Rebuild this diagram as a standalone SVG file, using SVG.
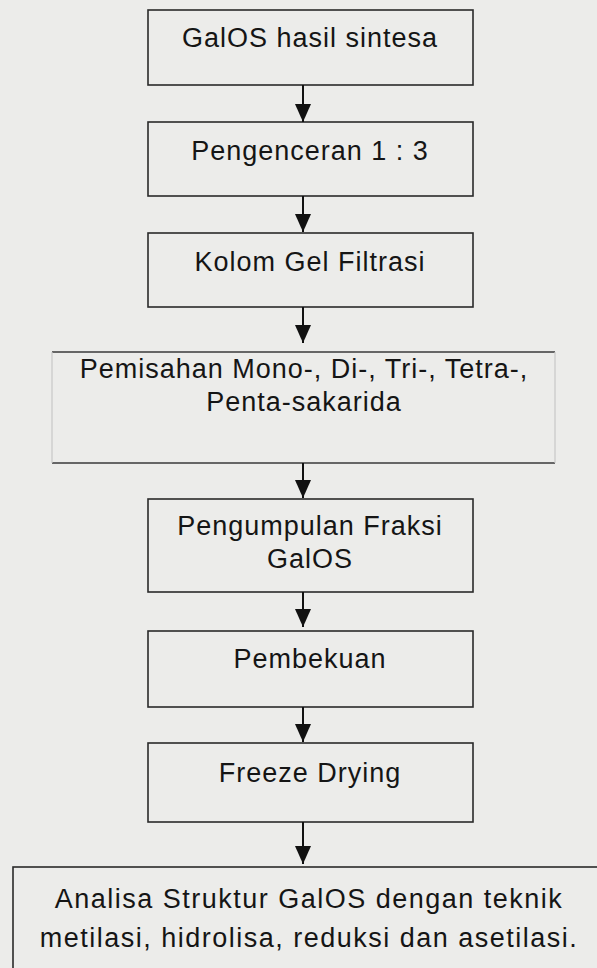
<svg xmlns="http://www.w3.org/2000/svg" width="597" height="968" viewBox="0 0 597 968">
  <style>
    .box { fill: none; stroke: #2a2a2a; stroke-width: 1.6; }
    .faint { stroke: #c8c8c6; stroke-width: 1.2; }
    .hl { stroke: #3a3a3a; stroke-width: 1.6; }
    .lbl { font-family: "Liberation Sans", Arial, sans-serif; font-size: 27px; fill: #151515; text-anchor: middle; letter-spacing: 1px; }
    .wide { letter-spacing: 1.5px; }
    .conn { stroke: #111; stroke-width: 2; fill: none; marker-end: url(#arr); }
  </style>
  <defs>
    <marker id="arr" viewBox="0 0 18 16" markerWidth="18" markerHeight="16" refX="18" refY="8" orient="auto" markerUnits="userSpaceOnUse">
      <path d="M0,0 L18,8 L0,16 z" fill="#111"/>
    </marker>
  </defs>
  <rect x="0" y="0" width="597" height="968" fill="#ececea"/>

  <g id="n1">
    <rect class="box" x="148" y="10" width="325" height="75"/>
    <text class="lbl" x="310" y="47">GalOS hasil sintesa</text>
  </g>
  <g id="n2">
    <rect class="box" x="148" y="122" width="325" height="74"/>
    <text class="lbl" x="310" y="160">Pengenceran 1 : 3</text>
  </g>
  <g id="n3">
    <rect class="box" x="148" y="233" width="325" height="74"/>
    <text class="lbl" x="310" y="271">Kolom Gel Filtrasi</text>
  </g>
  <g id="n4">
    <line class="hl" x1="52" y1="352" x2="555" y2="352"/>
    <line class="hl" x1="52" y1="463" x2="555" y2="463"/>
    <line class="faint" x1="52" y1="352" x2="52" y2="463"/>
    <line class="faint" x1="555" y1="352" x2="555" y2="463"/>
    <text class="lbl" x="304" y="378">Pemisahan Mono-, Di-, Tri-, Tetra-,</text>
    <text class="lbl" x="304" y="411">Penta-sakarida</text>
  </g>
  <g id="n5">
    <rect class="box" x="148" y="499" width="325" height="93"/>
    <text class="lbl" x="310" y="535">Pengumpulan Fraksi</text>
    <text class="lbl" x="310" y="568">GalOS</text>
  </g>
  <g id="n6">
    <rect class="box" x="148" y="631" width="325" height="76"/>
    <text class="lbl" x="310" y="668">Pembekuan</text>
  </g>
  <g id="n7">
    <rect class="box" x="148" y="743" width="325" height="79"/>
    <text class="lbl" x="310" y="782">Freeze Drying</text>
  </g>
  <g id="n8">
    <rect class="box" x="13" y="867" width="600" height="120"/>
    <text class="lbl wide" x="309" y="908">Analisa Struktur GalOS dengan teknik</text>
    <text class="lbl wide" x="309" y="947">metilasi, hidrolisa, reduksi dan asetilasi.</text>
  </g>

  <g id="connectors">
    <line class="conn" x1="303" y1="85" x2="303" y2="122"/>
    <line class="conn" x1="303" y1="196" x2="303" y2="232"/>
    <line class="conn" x1="303" y1="307" x2="303" y2="343"/>
    <line class="conn" x1="303" y1="463" x2="303" y2="498"/>
    <line class="conn" x1="303" y1="592" x2="303" y2="627"/>
    <line class="conn" x1="303" y1="707" x2="303" y2="742"/>
    <line class="conn" x1="303" y1="822" x2="303" y2="864"/>
  </g>
</svg>
